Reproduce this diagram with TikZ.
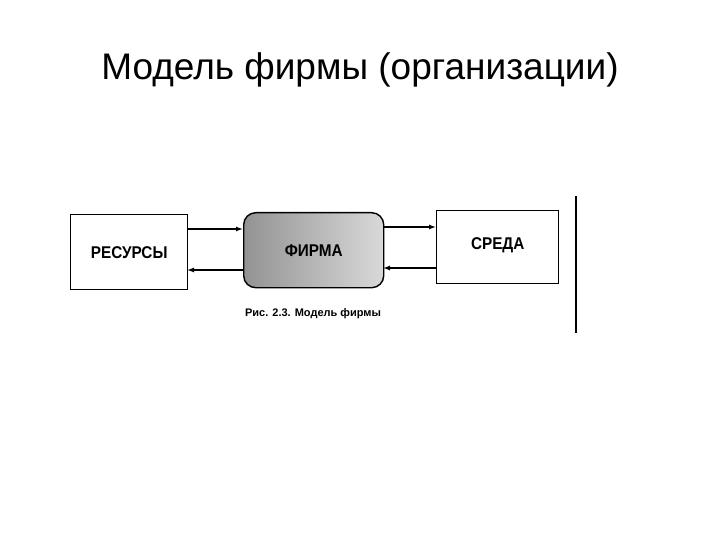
\documentclass[tikz,border=0pt]{standalone}
\usepackage{fontspec}
\setmainfont{Liberation Sans}
\usetikzlibrary{arrows.meta}
\begin{document}
\begin{tikzpicture}[x=1pt,y=-1pt,
  box/.style={draw,line width=1.4pt,anchor=north west,inner sep=0pt,font=\bfseries\fontsize{17}{19}\selectfont},
  arr/.style={line width=1.3pt,-{Latex[length=7pt,width=5pt]}}]
\useasboundingbox (0,0) rectangle (720,540);
\node (title) at (360,70) {\fontsize{37}{40}\selectfont Модель фирмы (организации)};
\node[box,minimum width=117pt,minimum height=75pt] (res) at (70,214) {\scalebox{0.9}[1]{РЕСУРСЫ}};
\node[box,rounded corners=12pt,minimum width=140pt,minimum height=75pt,left color=gray!85,right color=gray!30] (firm) at (243,212) {\scalebox{0.9}[1]{ФИРМА}};
\node[box,minimum width=122pt,minimum height=73pt] (env) at (436,210) {\raisebox{8pt}{\scalebox{0.9}[1]{СРЕДА}}};
\coordinate (r1) at (187,229); \coordinate (f1) at (243,229);
\coordinate (r2) at (187,270); \coordinate (f2) at (243,270);
\coordinate (f3) at (383,227); \coordinate (e3) at (436,227);
\coordinate (f4) at (383,268); \coordinate (e4) at (436,268);
\draw[arr] (r1) -- (f1);
\draw[arr] (f2) -- (r2);
\draw[arr] (f3) -- (e3);
\draw[arr] (e4) -- (f4);
\coordinate (v1) at (576,196); \coordinate (v2) at (576,333);
\draw[line width=1.4pt] (v1) -- (v2);
\node (cap) at (313,314) {\fontsize{11}{13}\selectfont\bfseries Рис. 2.3. Модель фирмы};
\end{tikzpicture}
\end{document}
